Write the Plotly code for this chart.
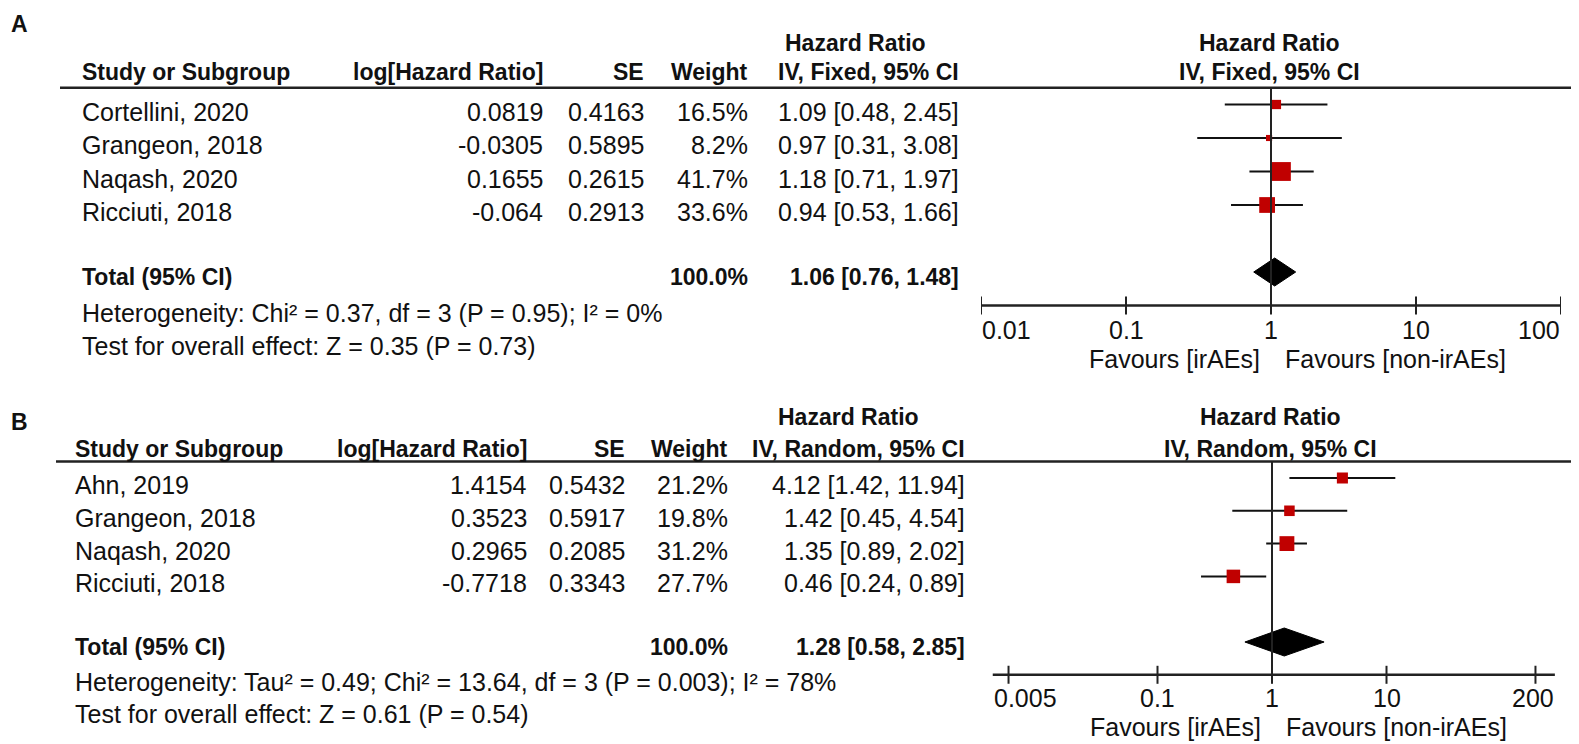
import numpy as np
import plotly.graph_objects as go

W, H = 1579, 744
FONT = "Liberation Sans, Arial, sans-serif"
RED = "#c00000"
INK = "#111111"

# ---- panel A : fixed effect ----
studies_a = ["Cortellini, 2020", "Grangeon, 2018", "Naqash, 2020", "Ricciuti, 2018"]
log_hr_a = [0.0819, -0.0305, 0.1655, -0.064]
se_a = [0.4163, 0.5895, 0.2615, 0.2913]
weight_a = [16.5, 8.2, 41.7, 33.6]
hr_a = [1.09, 0.97, 1.18, 0.94]
lo_a = [0.48, 0.31, 0.71, 0.53]
hi_a = [2.45, 3.08, 1.97, 1.66]
total_a = [1.06, 0.76, 1.48]
het_a = "Heterogeneity: Chi² = 0.37, df = 3 (P = 0.95); I² = 0%"
test_a = "Test for overall effect: Z = 0.35 (P = 0.73)"
ticks_a = [0.01, 0.1, 1, 10, 100]
tick_text_a = ["0.01", "0.1", "1", "10", "100"]

# ---- panel B : random effects ----
studies_b = ["Ahn, 2019", "Grangeon, 2018", "Naqash, 2020", "Ricciuti, 2018"]
log_hr_b = [1.4154, 0.3523, 0.2965, -0.7718]
se_b = [0.5432, 0.5917, 0.2085, 0.3343]
weight_b = [21.2, 19.8, 31.2, 27.7]
hr_b = [4.12, 1.42, 1.35, 0.46]
lo_b = [1.42, 0.45, 0.89, 0.24]
hi_b = [11.94, 4.54, 2.02, 0.89]
total_b = [1.28, 0.58, 2.85]
het_b = "Heterogeneity: Tau² = 0.49; Chi² = 13.64, df = 3 (P = 0.003); I² = 78%"
test_b = "Test for overall effect: Z = 0.61 (P = 0.54)"
ticks_b = [0.005, 0.1, 1, 10, 200]
tick_text_b = ["0.005", "0.1", "1", "10", "200"]

favours = ["Favours [irAEs]", "Favours [non-irAEs]"]


def txt(s, x, y, yref, anchor="left", bold=False, xref="paper", xshift=0):
    return dict(text=f"<b>{s}</b>" if bold else s, x=x, y=y, xref=xref, yref=yref,
                xanchor=anchor, yanchor="middle", showarrow=False, borderpad=0,
                xshift=xshift, font=dict(family=FONT, size=23 if bold else 25, color=INK))


def ci(h, l, u):
    return f"{h:.2f} [{l:.2f}, {u:.2f}]"


def panel(fig, xa, ya, label, studies, log_hr, se, weight, hr, lo, hi, total,
          het, test, ticks, tick_text, method, g):
    ann, shp = [], []
    n = len(studies)
    rows = list(range(n))
    tot_row, axis_row = n + 1, n + 2
    dy = 7 / g["step"]
    px = lambda p: p / W

    # left table
    ann.append(txt(label, px(2), g["label_r"], ya, bold=True))
    ann.append(txt("Hazard Ratio", px(g["hr_c"]), -1.85, ya, "center", True))
    heads = [("Study or Subgroup", g["name"], "left"), ("log[Hazard Ratio]", g["log"], "right"),
             ("SE", g["se"], "right"), ("Weight", g["w"], "right"),
             (f"IV, {method}, 95% CI", g["ci"], "right")]
    for s, x, a in heads:
        ann.append(txt(s, px(x), g["head_r"], ya, a, True))
    for r in rows:
        ann.append(txt(studies[r], px(g["name"]), r + dy, ya))
        ann.append(txt(str(log_hr[r]), px(g["log"]), r + dy, ya, "right"))
        ann.append(txt(f"{se[r]:.4f}", px(g["se"]), r + dy, ya, "right"))
        ann.append(txt(f"{weight[r]:.1f}%", px(g["w"]), r + dy, ya, "right"))
        ann.append(txt(ci(hr[r], lo[r], hi[r]), px(g["ci"]), r + dy, ya, "right"))
    ann.append(txt("Total (95% CI)", px(g["name"]), tot_row + 0.15, ya, bold=True))
    ann.append(txt("100.0%", px(g["w"]), tot_row + 0.15, ya, "right", True))
    ann.append(txt(ci(*total), px(g["ci"]), tot_row + 0.15, ya, "right", True))
    ann.append(txt(het, px(g["name"]), tot_row + 1.22, ya))
    ann.append(txt(test, px(g["name"]), tot_row + 2.2, ya))

    # header rule across table and plot
    shp.append(dict(type="line", xref="paper", yref=ya, x0=px(g["rule"][0]), x1=px(g["rule"][1]),
                    y0=-0.5, y1=-0.5, line=dict(color="#222", width=2.5)))

    # forest plot headers (annotation x on a log axis is given in log10 units)
    ann.append(txt("Hazard Ratio", 0, -1.85, ya, "center", True, xref=xa, xshift=-2))
    ann.append(txt(f"IV, {method}, 95% CI", 0, g["head_r"], ya, "center", True, xref=xa, xshift=-2))

    # line of no effect (shape x on a log axis is given in data units)
    shp.append(dict(type="line", xref=xa, yref=ya, x0=1, x1=1, y0=-0.5, y1=axis_row,
                    line=dict(color="#222", width=2)))
    # axis line and ticks
    lt = np.log10(ticks)
    a0, a1 = lt[0] - g["pad"][0], lt[-1] + g["pad"][1]
    shp.append(dict(type="line", xref=xa, yref=ya, x0=10 ** a0, x1=10 ** a1, y0=axis_row, y1=axis_row,
                    line=dict(color="#222", width=2.5)))
    tk = 9 / g["step"]
    for i, v in enumerate(ticks):
        shp.append(dict(type="line", xref=xa, yref=ya, x0=v, x1=v, y0=axis_row - tk,
                        y1=axis_row + tk, line=dict(color="#222", width=2)))
        if i == 0:
            ann.append(txt(tick_text[i], a0, axis_row + 0.72, ya, "left", xref=xa))
        elif i == len(ticks) - 1:
            ann.append(txt(tick_text[i], a1, axis_row + 0.72, ya, "right", xref=xa))
        else:
            ann.append(txt(tick_text[i], lt[i], axis_row + 0.72, ya, "center", xref=xa))
    ann.append(txt(favours[0], 0, axis_row + 1.6, ya, "right", xref=xa, xshift=-10))
    ann.append(txt(favours[1], 0, axis_row + 1.6, ya, "left", xref=xa, xshift=13))

    # confidence intervals
    xs, ys = [], []
    for r in rows:
        xs += [lo[r], hi[r], None]
        ys += [r, r, None]
    fig.add_trace(go.Scatter(x=xs, y=ys, mode="lines", xaxis=xa, yaxis=ya,
                             line=dict(color="#111", width=2), hoverinfo="skip"))
    # study squares, sized by weight
    fig.add_trace(go.Scatter(x=hr, y=rows, mode="markers", xaxis=xa, yaxis=ya,
                             marker=dict(symbol="square", color=RED, opacity=1,
                                         size=[3 + 0.38 * w for w in weight], line=dict(width=0))))
    # pooled diamond
    h = 14 / g["step"]
    est, l, u = total
    fig.add_trace(go.Scatter(x=[l, est, u, est, l], y=[tot_row, tot_row - h, tot_row, tot_row + h, tot_row],
                             mode="lines", fill="toself", fillcolor="black", xaxis=xa, yaxis=ya,
                             line=dict(color="black", width=1)))
    return ann, shp, (a0, a1)


fig = go.Figure()

geo_a = dict(step=33.5, row0=96.5, top=0, bot=372, label_r=-2.4, head_r=-0.97, hr_c=847,
             name=73, log=536, se=637, w=741, ci=952, rule=(52, 1573), pad=(0, 0),
             centre=1263, decade=145)
geo_b = dict(step=32.8, row0=470, top=372, bot=744, label_r=-1.71, head_r=-0.88, hr_c=840,
             name=66, log=520, se=618, w=721, ci=958, rule=(48, 1567), pad=(0.14, 0.17),
             centre=1264, decade=114.5)

ann_a, shp_a, rng_a = panel(fig, "x", "y", "A", studies_a, log_hr_a, se_a, weight_a, hr_a, lo_a, hi_a,
                            total_a, het_a, test_a, ticks_a, tick_text_a, "Fixed", geo_a)
ann_b, shp_b, rng_b = panel(fig, "x2", "y2", "B", studies_b, log_hr_b, se_b, weight_b, hr_b, lo_b, hi_b,
                            total_b, het_b, test_b, ticks_b, tick_text_b, "Random", geo_b)


def yrange(g):
    return [(g["bot"] - g["row0"]) / g["step"], (g["top"] - g["row0"]) / g["step"]]


def xdomain(g, rng):
    return [(g["centre"] + rng[0] * g["decade"]) / W, (g["centre"] + rng[1] * g["decade"]) / W]


hidden = dict(showgrid=False, zeroline=False, showticklabels=False, ticks="", showline=False)
fig.update_layout(
    width=W, height=H, margin=dict(l=0, r=0, t=0, b=0),
    paper_bgcolor="white", plot_bgcolor="rgba(0,0,0,0)", showlegend=False,
    xaxis=dict(type="log", domain=xdomain(geo_a, rng_a), range=list(rng_a), anchor="y", **hidden),
    yaxis=dict(domain=[0.5, 1], range=yrange(geo_a), anchor="x", **hidden),
    xaxis2=dict(type="log", domain=xdomain(geo_b, rng_b), range=list(rng_b), anchor="y2", **hidden),
    yaxis2=dict(domain=[0, 0.5], range=yrange(geo_b), anchor="x2", **hidden),
    annotations=ann_a + ann_b,
    shapes=shp_a + shp_b,
)

fig.write_html("out.html")
